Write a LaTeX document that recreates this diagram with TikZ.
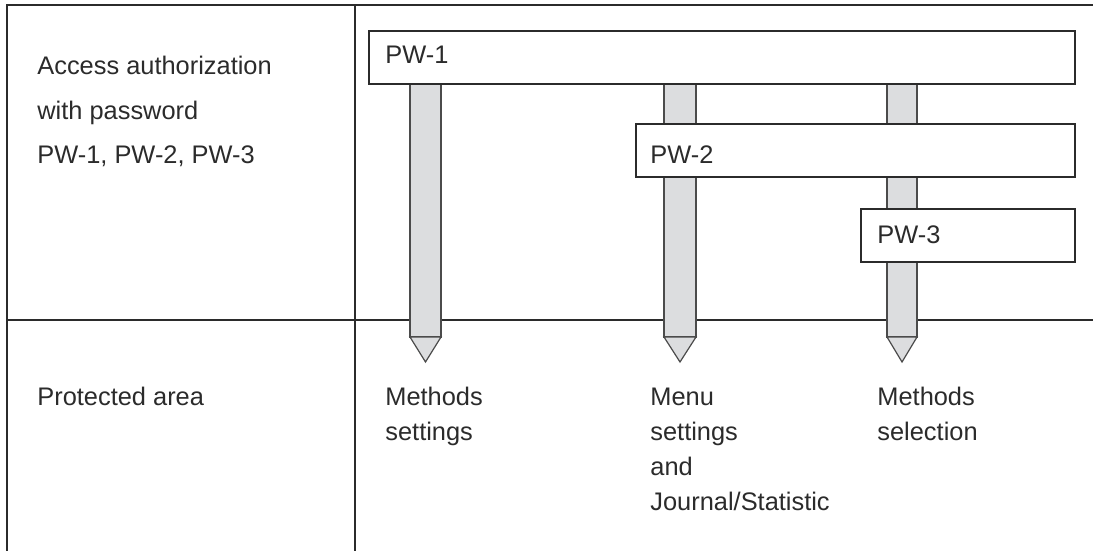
\documentclass[tikz,border=0pt]{standalone}
\usepackage{fontspec}
\setmainfont{Liberation Sans}
\usetikzlibrary{positioning}
\definecolor{bargray}{HTML}{DCDDDF}
\definecolor{linegray}{HTML}{2B2B2B}
\tikzset{
	tableline/.style={
			draw=linegray,
			line width=0.9pt
		},
	pwbox/.style={
			shape=rectangle,
			draw=linegray,
			line width=0.8pt,
			fill=white,
			minimum height=26.5pt,
			inner sep=0pt,
			anchor=north west
		},
	barshape/.style={
			draw=linegray!85,
			line width=0.6pt,
			fill=bargray
		},
	plaintext/.style={
			font=\fontsize{12.7}{17.5}\selectfont,
			text=linegray,
			inner sep=0pt,
			anchor=base west,
			align=left
		},
	headtext/.style={
			plaintext,
			font=\fontsize{12.7}{22}\selectfont
		}
}

\begin{document}
\begin{tikzpicture}[x=0.5pt, y=-0.5pt]

  \useasboundingbox (0,0) rectangle (1093,551);

  % table
  \draw[tableline] (1093,5) -- (7,5) -- (7,551);
  \draw[tableline] (355,5) -- (355,551);
  \draw[tableline] (7,320) -- (1093,320);

  % bars
  \draw[barshape] (410,83) rectangle (441,337);
  \draw[barshape] (410,337) -- (441,337) -- (425.5,362) -- cycle;
  \draw[barshape] (664,83) rectangle (696,337);
  \draw[barshape] (664,337) -- (696,337) -- (680,362) -- cycle;
  \draw[barshape] (887,83) rectangle (917,337);
  \draw[barshape] (887,337) -- (917,337) -- (902,362) -- cycle;

  \node[pwbox, minimum width=353pt] (pw1) at (368,30) {};
  \node[pwbox, minimum width=219.5pt] (pw2) at (635,123) {};
  \node[pwbox, minimum width=107pt] (pw3) at (860,208) {};

  \node[plaintext] (pw1t) at (385,64) {PW-1};
  \node[plaintext] (pw2t) at (650,163) {PW-2};
  \node[plaintext] (pw3t) at (877,243) {PW-3};

  % base = last line
  \node[headtext] (access) at (37,163) {Access authorization\\with password\\PW-1, PW-2, PW-3};
  \node[plaintext] (area) at (37,405) {Protected area};

  \node[plaintext] (msettings) at (385,440) {Methods\\settings};
  \node[plaintext] (menu) at (650,510) {Menu\\settings\\and\\Journal/Statistic};
  \node[plaintext] (mselection) at (877,440) {Methods\\selection};

\end{tikzpicture}
\end{document}
